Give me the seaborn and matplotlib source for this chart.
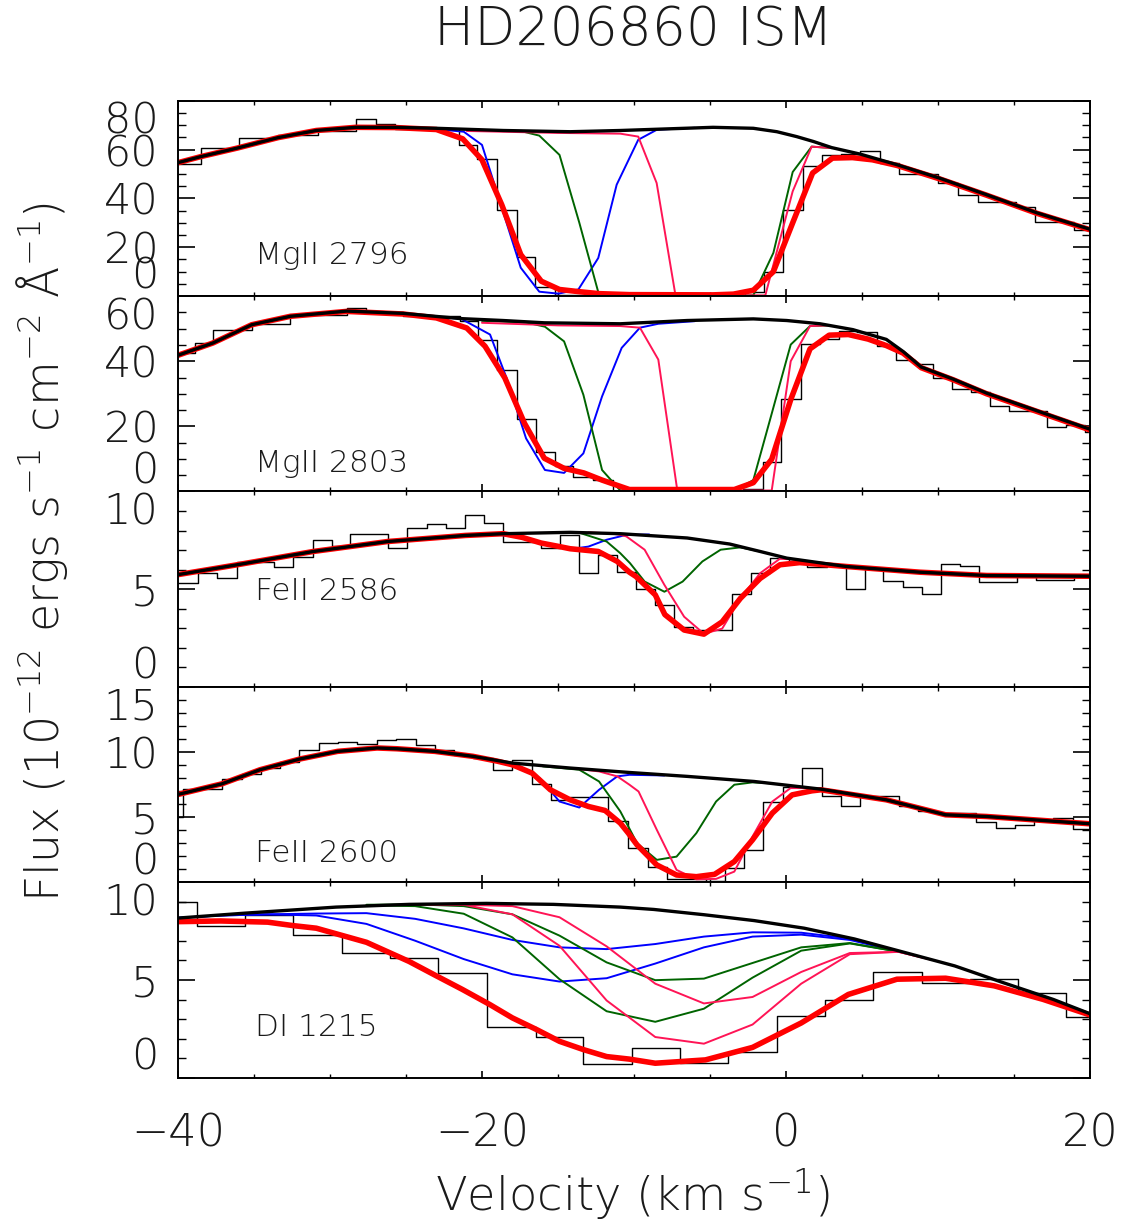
import matplotlib
matplotlib.use("Agg")
import matplotlib.pyplot as plt
import seaborn as sns
from matplotlib.ticker import MultipleLocator

# ---------------- MgII 2796 ----------------
mg2796_edges = [-41.0, -38.5, -36.0, -33.4, -30.8, -28.3, -27.0, -25.7, -21.5, -20.3, -19.0, -17.7, -16.5, -15.2,
                -2.7, -1.45, -0.2, 1.1, 2.4, 3.65, 4.9, 6.2, 7.45, 10.0, 11.3, 12.6, 15.1, 16.4, 18.95, 20.5]
mg2796_flux = [54.0, 60.6, 64.9, 66.0, 67.6, 72.4, 70.5, 68.5, 61.9, 56.1, 35.4, 16.1, 3.8, 0.3,
               1.6, 10.0, 35.1, 53.1, 57.6, 58.0, 59.2, 54.4, 50.1, 46.3, 41.5, 38.4, 36.3, 30.3, 27.2]
mg2796_cont_v = [-40.5, -38.5, -36.1, -33.4, -30.9, -28.3, -25.7, -23.0, -18.6, -14.2, -10.9, -4.8, -2.15,
                 -0.6, 0.7, 1.8, 3.0, 4.9, 7.3, 10.1, 13.2, 16.5, 20.5]
mg2796_cont = [53.8, 57.1, 60.6, 64.9, 67.8, 69.1, 69.1, 68.7, 67.8, 67.3, 67.8, 69.1, 68.7,
               67.3, 65.3, 63.3, 60.8, 58.1, 53.8, 48.3, 41.5, 34.1, 26.4]
mg2796_fit_v = [-40.5, -38.5, -36.1, -33.4, -30.9, -28.3, -25.7, -23.0, -21.27, -20.0, -18.7, -17.45, -16.1,
                -14.9, -13.6, -12.3, -10.3, -4.8, -3.46, -2.15, -0.83, 0.44, 1.75, 3.06, 4.37, 5.68, 7.3,
                10.1, 13.2, 16.5, 20.5]
mg2796_fit = [53.8, 57.1, 60.6, 64.9, 67.8, 69.1, 69.0, 68.2, 64.4, 55.8, 37.4, 17.0, 6.1,
              2.7, 1.8, 1.0, 0.6, 0.5, 0.8, 2.4, 10.0, 30.0, 50.4, 56.5, 56.7, 55.8, 53.5,
              48.0, 41.3, 33.9, 26.2]
mg2796_blue_v = [-24.0, -21.2, -20.0, -17.45, -16.23, -14.98, -13.66, -12.35, -11.14, -9.72, -8.5, -6.0]
mg2796_blue = [68.9, 67.3, 61.9, 11.6, 1.8, 1.0, 2.7, 15.6, 45.6, 64.0, 68.1, 68.9]
mg2796_green_v = [-20.0, -17.4, -16.23, -14.9, -13.6, -12.35, -11.1, -3.4, -2.15, -0.83, 0.44, 1.69, 3.0]
mg2796_green = [67.9, 67.5, 65.7, 57.8, 30.1, 1.6, 0.3, 0.2, 0.3, 17.7, 50.8, 61.2, 60.6]
mg2796_pink_v = [-21.0, -15.0, -10.9, -9.72, -8.51, -7.27, -1.36, 0.44, 1.69, 3.0]
mg2796_pink = [67.6, 66.8, 66.5, 65.3, 46.3, 0.3, 0.3, 42.9, 61.2, 60.6]

# ---------------- MgII 2803 ----------------
mg2803_edges = [-41.0, -38.9, -37.7, -35.15, -32.6, -28.9, -27.6, -25.2, -21.45, -20.24, -19.0, -17.72, -16.47,
                -15.2, -14.0, -12.7, -11.4, -2.8, -1.53, -0.3, 0.97, 2.24, 3.49, 4.70, 5.97, 7.22, 8.49, 9.7,
                10.95, 12.18, 13.43, 14.68, 17.16, 18.41, 19.68, 20.5]
mg2803_flux = [42.5, 45.6, 49.7, 51.5, 54.1, 56.4, 55.1, 53.8, 52.3, 46.4, 37.4, 22.2, 12.0, 7.9, 4.3, 3.5,
               0.3, 0.9, 9.1, 28.4, 45.3, 46.8, 49.4, 48.9, 44.6, 40.5, 39.0, 35.0, 31.4, 30.5, 26.1, 24.6,
               19.9, 20.4, 18.3]
mg2803_cont_v = [-40.5, -37.7, -35.15, -32.6, -28.9, -25.2, -21.45, -18.6, -15.9, -10.9, -6.5, -2.15, 0.05,
                 2.24, 4.4, 6.6, 7.7, 8.9, 11.0, 13.2, 15.4, 17.6, 20.5]
mg2803_cont = [41.0, 45.6, 51.2, 53.8, 55.4, 54.7, 53.1, 52.5, 51.8, 51.5, 52.5, 53.0, 52.5,
               51.5, 49.7, 46.7, 43.0, 38.2, 34.5, 30.2, 26.6, 23.0, 18.3]
mg2803_fit_v = [-40.5, -37.7, -35.15, -32.6, -28.9, -25.2, -23.0, -21.0, -19.8, -18.5, -17.2, -15.9, -14.6,
                -13.3, -12.1, -10.8, -10.3, -3.4, -2.15, -0.94, 0.31, 1.58, 2.84, 4.1, 5.4, 6.6, 7.7, 8.9,
                11.0, 13.2, 15.4, 17.6, 20.5]
mg2803_fit = [41.0, 45.6, 51.2, 53.8, 55.3, 54.5, 53.3, 50.2, 44.6, 34.9, 20.9, 10.2, 7.1,
              5.7, 3.5, 1.4, 0.6, 0.6, 2.7, 9.9, 28.2, 43.8, 48.0, 48.2, 46.8, 44.8, 42.5, 38.0,
              34.3, 30.0, 26.4, 22.8, 18.1]
mg2803_blue_v = [-23.0, -21.4, -19.47, -18.38, -17.1, -15.86, -14.6, -13.33, -12.1, -10.81, -9.61, -8.4, -6.0]
mg2803_blue = [53.5, 53.1, 48.2, 34.8, 16.3, 6.6, 5.7, 11.7, 29.2, 44.1, 50.3, 51.5, 52.3]
mg2803_green_v = [-20.0, -17.1, -15.86, -14.6, -13.33, -12.1, -10.9, -3.36, -2.15, -0.94, 0.31, 1.58, 2.8]
mg2803_green = [52.4, 51.9, 50.6, 46.1, 29.7, 6.6, 0.3, 0.3, 3.5, 23.9, 45.1, 50.8, 51.0]
mg2803_pink_v = [-20.0, -15.0, -10.9, -9.61, -8.4, -7.15, -0.94, 0.31, 1.58, 2.8]
mg2803_pink = [51.8, 51.0, 50.8, 50.3, 40.5, 0.3, 0.3, 40.0, 50.8, 51.0]

# ---------------- FeII 2586 ----------------
fe2586_edges = [-41.0, -38.66, -37.46, -36.14, -33.66, -32.41, -31.14, -29.89, -28.68, -26.16, -24.91, -23.64,
                -22.37, -21.12, -19.87, -18.64, -17.35, -16.12, -14.87, -13.6, -12.35, -11.14, -9.87, -8.62,
                -7.35, -6.1, -4.85, -3.57, -2.32, -1.05, 0.2, 1.4, 2.68, 3.93, 5.2, 6.4, 7.68, 8.93, 10.18,
                11.45, 12.7, 15.18, 16.45, 18.95, 20.5]
fe2586_flux = [5.34, 5.82, 5.56, 6.37, 6.14, 6.64, 7.50, 7.19, 7.82, 7.10, 8.13, 8.34, 8.12, 8.80, 8.38,
               7.44, 7.39, 7.13, 7.75, 5.82, 6.76, 5.86, 5.0, 4.19, 3.05, 2.91, 2.91, 4.74, 5.82, 6.62,
               6.33, 6.16, 6.25, 5.0, 6.1, 5.44, 5.13, 4.76, 6.28, 6.21, 5.36, 5.77, 5.48, 5.65]
fe2586_cont_v = [-40.5, -36.1, -31.1, -26.2, -21.1, -18.6, -14.2, -10.9, -6.5, -3.7, -1.7, 0.05, 3.98, 8.8,
                 13.2, 20.5]
fe2586_cont = [5.68, 6.25, 6.93, 7.44, 7.75, 7.84, 7.91, 7.84, 7.62, 7.31, 6.93, 6.59, 6.16, 5.87,
               5.70, 5.66]
fe2586_fit_v = [-40.5, -36.1, -31.1, -26.2, -21.1, -18.6, -17.35, -16.1, -14.9, -14.2, -12.35, -11.1, -10.3,
                -9.87, -8.6, -7.97, -6.7, -5.4, -4.2, -3.0, -1.7, -0.4, 0.9, 3.98, 8.8, 13.2, 20.5]
fe2586_fit = [5.68, 6.25, 6.93, 7.44, 7.75, 7.84, 7.65, 7.36, 7.18, 7.07, 6.93, 6.42, 5.87,
              5.65, 4.71, 3.7, 2.91, 2.7, 3.33, 4.53, 5.55, 6.25, 6.36, 6.16, 5.87, 5.70, 5.66]
fe2586_blue_v = [-19.5, -17.35, -16.1, -14.9, -14.2, -13.0, -11.8, -10.5, -9.0]
fe2586_blue = [7.83, 7.65, 7.36, 7.18, 7.05, 7.18, 7.53, 7.78, 7.80]
fe2586_green_v = [-15.0, -13.6, -11.8, -10.9, -10.26, -9.3, -8.0, -6.8, -5.5, -4.3, -3.0, -1.7]
fe2586_green = [7.91, 7.89, 7.44, 6.84, 6.33, 5.39, 4.87, 5.39, 6.42, 7.02, 7.14, 6.93]
fe2586_pink_v = [-13.0, -11.5, -10.9, -10.5, -9.3, -8.0, -6.7, -5.4, -4.2, -3.0, -1.7, -0.4, 0.9, 2.0]
fe2586_pink = [7.91, 7.85, 7.78, 7.7, 7.02, 5.22, 3.59, 2.72, 2.98, 4.53, 5.82, 6.56, 6.5, 6.35]

# ---------------- FeII 2600 ----------------
fe2600_edges = [-41.0, -39.69, -37.13, -35.81, -34.56, -33.29, -32.02, -30.75, -29.5, -28.2, -26.93, -25.66,
                -24.36, -23.1, -21.82, -20.57, -19.3, -18.0, -16.73, -15.46, -14.21, -11.69, -10.37, -9.1,
                -7.85, -5.28, -4.01, -2.74, -1.49, -0.22, 1.07, 2.35, 3.6, 4.87, 7.43, 8.71, 9.96, 11.23,
                12.5, 13.79, 15.07, 16.34, 17.59, 18.86, 20.5]
fe2600_flux = [5.05, 7.15, 7.95, 8.33, 8.77, 9.2, 10.18, 10.69, 10.77, 10.61, 10.9, 11.0, 10.51, 10.13, 9.8,
               9.54, 8.64, 9.36, 7.56, 6.28, 6.51, 4.72, 2.6, 1.2, 0.23, 0.13, 1.08, 2.49, 6.2, 7.31, 8.77,
               6.64, 5.87, 6.6, 5.87, 5.51, 5.31, 5.31, 4.61, 4.2, 4.41, 4.8, 4.95, 4.1]
fe2600_cont_v = [-40.5, -37.1, -34.6, -32.0, -29.5, -26.9, -25.6, -23.1, -20.6, -18.0, -14.2, -10.3, -6.5,
                 -2.1, 2.3, 6.6, 10.5, 13.2, 20.5]
fe2600_cont = [6.6, 7.56, 8.64, 9.46, 10.05, 10.31, 10.25, 10.05, 9.67, 9.15, 8.77, 8.43, 8.13,
               7.74, 7.15, 6.33, 5.18, 5.05, 4.45]
fe2600_fit_v = [-40.5, -37.1, -34.6, -32.0, -29.5, -26.9, -25.6, -23.1, -20.6, -19.0, -18.0, -16.7, -15.5,
                -14.2, -13.0, -11.9, -10.9, -10.37, -9.8, -8.5, -7.2, -5.9, -4.7, -3.4, -2.2, -0.9, 0.4,
                1.7, 2.3, 6.6, 10.5, 13.2, 20.5]
fe2600_fit = [6.6, 7.56, 8.64, 9.46, 10.05, 10.31, 10.25, 10.05, 9.67, 9.3, 9.02, 8.38, 7.1,
              6.33, 5.82, 5.51, 4.54, 3.77, 2.87, 1.33, 0.56, 0.43, 0.61, 1.59, 3.26, 5.31, 6.71,
              7.02, 7.1, 6.33, 5.18, 5.05, 4.45]
fe2600_blue_v = [-20.6, -18.0, -16.2, -14.9, -13.6, -12.3, -11.1, -10.3, -8.0]
fe2600_blue = [9.67, 9.05, 7.99, 6.2, 5.74, 7.1, 8.13, 8.25, 8.2]
fe2600_green_v = [-16.0, -13.6, -12.3, -10.9, -10.26, -9.8, -8.5, -7.2, -5.9, -4.6, -3.4, -2.2, -1.0]
fe2600_green = [8.9, 8.64, 7.74, 5.44, 4.03, 3.0, 1.72, 1.97, 3.77, 6.2, 7.49, 7.67, 7.6]
fe2600_pink_v = [-14.0, -12.3, -11.1, -10.3, -9.7, -8.5, -7.2, -5.9, -4.6, -3.4, -2.2, -0.9, 0.3, 1.7, 2.5]
fe2600_pink = [8.75, 8.51, 8.13, 7.49, 6.97, 4.03, 0.95, 0.23, 0.26, 0.82, 3.52, 6.2, 7.23, 7.23, 7.12]

# ---------------- DI 1215 ----------------
di1215_edges = [-41.0, -38.77, -35.59, -32.41, -29.19, -26.05, -22.87, -19.69, -16.47, -13.33, -10.15, -6.97,
                -3.79, -0.61, 2.57, 5.75, 8.93, 12.1, 15.24, 18.42, 21.0]
di1215_flux = [8.99, 7.75, 8.35, 7.32, 6.38, 6.1, 5.36, 2.6, 2.06, 0.72, 1.52, 0.74, 1.29, 3.18, 3.99,
               5.41, 4.87, 5.04, 4.35, 3.09]
di1215_cont_v = [-40.5, -35.6, -29.6, -24.8, -19.7, -15.3, -10.9, -8.7, -5.4, -2.1, 1.2, 4.5, 7.8, 11.1,
                 14.3, 17.6, 20.5]
di1215_cont = [8.14, 8.42, 8.73, 8.87, 8.92, 8.87, 8.73, 8.61, 8.34, 8.04, 7.65, 7.1, 6.41, 5.72,
               4.86, 4.0, 3.12]
di1215_fit_v = [-40.5, -37.2, -34.1, -32.4, -30.9, -27.6, -24.8, -23.0, -21.3, -19.5, -18.0, -16.4, -14.9,
                -13.3, -11.8, -10.3, -8.6, -5.3, -2.2, 1.0, 4.1, 7.3, 10.5, 13.7, 16.9, 20.5]
di1215_fit = [7.98, 8.02, 7.96, 7.78, 7.65, 6.93, 5.95, 5.21, 4.52, 3.75, 3.06, 2.46, 1.86,
              1.43, 1.08, 0.95, 0.74, 0.91, 1.55, 2.8, 4.26, 5.04, 5.09, 4.7, 4.01, 3.08]
di1215_blue_v = [-40.5, -37.2, -34.1, -30.9, -27.6, -24.4, -21.2, -18.0, -14.9, -11.8, -8.6, -5.4, -2.2,
                 1.0, 4.2, 7.4]
di1215_blue_a = [8.16, 8.30, 8.36, 8.40, 8.42, 8.13, 7.64, 7.05, 6.67, 6.58, 6.84, 7.22, 7.44,
                 7.42, 7.12, 6.45]
di1215_blue_b = [8.16, 8.30, 8.36, 8.30, 7.87, 7.01, 6.07, 5.29, 4.92, 5.09, 5.84, 6.67, 7.22,
                 7.32, 7.05, 6.45]
di1215_green_v = [-27.6, -24.4, -21.2, -18.0, -14.9, -11.8, -8.6, -5.4, -2.2, 1.0, 4.2, 7.4]
di1215_green_a = [8.85, 8.87, 8.78, 8.36, 7.27, 5.9, 4.99, 5.07, 5.87, 6.67, 6.89, 6.45]
di1215_green_b = [8.82, 8.78, 8.39, 7.18, 5.04, 3.40, 2.86, 3.53, 5.12, 6.5, 6.87, 6.45]
di1215_pink_v = [-24.4, -21.2, -18.0, -14.9, -11.8, -8.6, -5.4, -2.2, 1.0, 4.2, 7.4, 9.5]
di1215_pink_a = [8.87, 8.85, 8.78, 8.21, 6.72, 4.81, 3.8, 4.13, 5.41, 6.38, 6.44, 6.05]
di1215_pink_b = [8.87, 8.85, 8.36, 6.75, 3.95, 2.08, 1.74, 2.72, 4.81, 6.32, 6.44, 6.05]

line_names = ["MgII 2796", "MgII 2803", "FeII 2586", "FeII 2600", "DI 1215"]
y_limits = [(0, 80), (0, 60), (0, 10), (0, 15), (0, 10)]
y_major = [20, 20, 5, 5, 5]
y_minor = [5, 5, 1, 1, 1]

BLUE, GREEN, PINK = "#0000ff", "#006400", "#ff1455"
INK = "#1a1a1a"

panels = [
    dict(edges=mg2796_edges, flux=mg2796_flux, cont=(mg2796_cont_v, mg2796_cont), fit=(mg2796_fit_v, mg2796_fit),
         comps=[(mg2796_blue_v, mg2796_blue, BLUE), (mg2796_green_v, mg2796_green, GREEN),
                (mg2796_pink_v, mg2796_pink, PINK)], label_y=0.162),
    dict(edges=mg2803_edges, flux=mg2803_flux, cont=(mg2803_cont_v, mg2803_cont), fit=(mg2803_fit_v, mg2803_fit),
         comps=[(mg2803_blue_v, mg2803_blue, BLUE), (mg2803_green_v, mg2803_green, GREEN),
                (mg2803_pink_v, mg2803_pink, PINK)], label_y=0.099),
    dict(edges=fe2586_edges, flux=fe2586_flux, cont=(fe2586_cont_v, fe2586_cont), fit=(fe2586_fit_v, fe2586_fit),
         comps=[(fe2586_blue_v, fe2586_blue, BLUE), (fe2586_green_v, fe2586_green, GREEN),
                (fe2586_pink_v, fe2586_pink, PINK)], label_y=0.445),
    dict(edges=fe2600_edges, flux=fe2600_flux, cont=(fe2600_cont_v, fe2600_cont), fit=(fe2600_fit_v, fe2600_fit),
         comps=[(fe2600_blue_v, fe2600_blue, BLUE), (fe2600_green_v, fe2600_green, GREEN),
                (fe2600_pink_v, fe2600_pink, PINK)], label_y=0.104),
    dict(edges=di1215_edges, flux=di1215_flux, cont=(di1215_cont_v, di1215_cont), fit=(di1215_fit_v, di1215_fit),
         comps=[(di1215_blue_v, di1215_blue_a, BLUE), (di1215_blue_v, di1215_blue_b, BLUE),
                (di1215_green_v, di1215_green_a, GREEN), (di1215_green_v, di1215_green_b, GREEN),
                (di1215_pink_v, di1215_pink_a, PINK), (di1215_pink_v, di1215_pink_b, PINK)], label_y=0.2145),
]

sns.set_theme(style="ticks")
plt.rcParams["font.family"] = ["DejaVu Sans"]
plt.rcParams["font.weight"] = "ultralight"
plt.rcParams["mathtext.default"] = "regular"
plt.rcParams["axes.linewidth"] = 1.4
plt.rcParams["text.color"] = INK
plt.rcParams["axes.edgecolor"] = "black"

fig, axes = plt.subplots(5, 1, sharex=True, figsize=(11.25, 12.22), dpi=100,
                         gridspec_kw=dict(left=0.1582, right=0.9689, top=0.9176, bottom=0.1181, hspace=0))

for i, (ax, p) in enumerate(zip(axes, panels)):
    step_y = p["flux"] + [p["flux"][-1]]
    sns.lineplot(x=p["edges"], y=step_y, ax=ax, color="black", lw=1.0, drawstyle="steps-post",
                 estimator=None, sort=False, legend=False)
    for v, f, c in p["comps"]:
        sns.lineplot(x=v, y=f, ax=ax, color=c, lw=1.4, estimator=None, sort=False, legend=False)
    sns.lineplot(x=p["fit"][0], y=p["fit"][1], ax=ax, color="#ff0000", lw=4.0,
                 estimator=None, sort=False, legend=False)
    sns.lineplot(x=p["cont"][0], y=p["cont"][1], ax=ax, color="black", lw=2.4,
                 estimator=None, sort=False, legend=False)

    lo, hi = y_limits[i]
    ax.set_xlim(-40, 20)
    ax.set_ylim(lo, hi)
    ax.set_yticks(list(range(lo, hi + 1, y_major[i])))
    ax.yaxis.set_minor_locator(MultipleLocator(y_minor[i]))
    ax.xaxis.set_major_locator(MultipleLocator(20))
    ax.xaxis.set_minor_locator(MultipleLocator(5))
    ax.tick_params(which="both", direction="in", top=True, right=True, color="black", labelcolor=INK)
    ax.tick_params(axis="y", which="major", length=12, width=1.2, labelsize=31, pad=14)
    ax.tick_params(axis="y", which="minor", length=6, width=1.0)
    ax.tick_params(axis="x", which="major", length=5, width=1.2, labelsize=32, pad=25)
    ax.tick_params(axis="x", which="minor", length=3, width=1.0)
    ax.set_xlabel("")
    ax.set_ylabel("")
    ticks = ax.yaxis.get_major_ticks()
    ticks[0].label1.set_verticalalignment("bottom")
    ticks[-1].label1.set_verticalalignment("top")
    ax.text(0.0844, p["label_y"], line_names[i], transform=ax.transAxes, fontsize=22.5,
            ha="left", va="baseline")

fig.text(0.5627, 0.975, "HD206860 ISM", fontsize=38.5, ha="center", va="center")
fig.text(0.5627, 1 - 1195 / 1222, "Velocity (km s$^{-1}$)", fontsize=33.5, ha="center", va="center")
fig.text(0.037, 1 - 552 / 1222, "Flux (10$^{-12}$ ergs s$^{-1}$ cm$^{-2}$ Å$^{-1}$)", fontsize=33,
         rotation=90, ha="center", va="center")

fig.savefig("out.png", dpi=100)
